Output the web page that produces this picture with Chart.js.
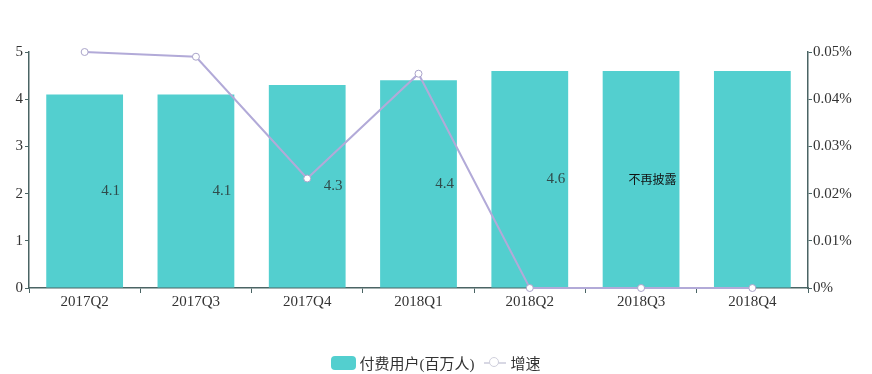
<!DOCTYPE html>
<html>
<head>
<meta charset="utf-8">
<script src="https://cdn.jsdelivr.net/npm/chart.js@4"></script>
<style>
  body { margin: 0; background: #fff; }
  #wrap { position: relative; width: 872px; height: 374px; }
  #legend { position: absolute; left: 0; right: 0; top: 352px; text-align: center;
    font-family: "Liberation Serif", "Noto Sans CJK SC", serif; font-size: 15px; color: #333; }
  #legend span { display: inline-block; vertical-align: middle; }
  .box { width: 25px; height: 14px; border-radius: 4px; background: #53cfcf; margin-right: 3px; }
  .ln { position: relative; width: 22px; height: 2px; background: #d8d8e4; margin: 0 4px 0 10px; }
  .ln i { position: absolute; left: 5px; top: -5px; width: 10px; height: 10px; border-radius: 50%;
    border: 1px solid #cfcfdc; background: #fff; box-sizing: border-box; }
</style>
</head>
<body>
<div id="wrap">
  <canvas id="c" width="872" height="374"></canvas>
  <div id="legend"><span class="box"></span><span>付费用户(百万人)</span><span class="ln"><i></i></span><span>增速</span></div>
</div>
<script>
var quarters = ['2017Q2', '2017Q3', '2017Q4', '2018Q1', '2018Q2', '2018Q3', '2018Q4'];
var paidUsers = [4.1, 4.1, 4.3, 4.4, 4.6, 4.6, 4.6];
var barLabels = ['4.1', '4.1', '4.3', '4.4', '4.6', '不再披露', ''];
var growth = [0.05, 0.049, 0.0232, 0.0454, 0, 0, 0];

var axisColor = '#4a6464';
var tickFont = { family: 'Liberation Serif', size: 15 };

// value labels, right side of each bar, halfway up
var barText = {
  id: 'barText',
  afterDatasetsDraw: function(chart) {
    var ctx = chart.ctx;
    var meta = chart.getDatasetMeta(0);
    ctx.save();
    ctx.textAlign = 'right';
    ctx.textBaseline = 'middle';
    meta.data.forEach(function(bar, i) {
      var txt = barLabels[i];
      if (!txt) return;
      if (/^[\d.]+$/.test(txt)) {
        ctx.font = '15px "Liberation Serif"';
        ctx.fillStyle = '#2f4b4b';
      } else {
        ctx.font = '12px "Noto Sans CJK SC"';
        ctx.fillStyle = '#111';
      }
      ctx.fillText(txt, bar.x + bar.width / 2 - 3, (bar.y + bar.base) / 2);
    });
    ctx.restore();
  }
};

new Chart(document.getElementById('c'), {
  type: 'bar',
  data: {
    labels: quarters,
    datasets: [{
      type: 'bar',
      label: '付费用户(百万人)',
      data: paidUsers,
      backgroundColor: '#53cfcf',
      categoryPercentage: 1,
      barPercentage: 0.69,
      yAxisID: 'y',
      order: 2
    }, {
      type: 'line',
      label: '增速',
      data: growth,
      borderColor: '#b2aad8',
      borderWidth: 2,
      pointRadius: 3.5,
      pointBackgroundColor: '#fff',
      pointBorderColor: '#a9a3c9',
      pointBorderWidth: 1,
      tension: 0,
      clip: false,
      yAxisID: 'y1',
      order: 1
    }]
  },
  options: {
    responsive: false,
    animation: false,
    layout: { padding: { top: 52, bottom: 0, left: 0, right: 0 } },
    plugins: { legend: { display: false }, tooltip: { enabled: false } },
    scales: {
      x: {
        offset: true,
        grid: { display: true, drawOnChartArea: false, tickLength: 5, offset: true, color: axisColor },
        border: { color: axisColor, width: 1.5 },
        ticks: { color: '#333', font: tickFont, padding: 0 },
        afterFit: function(s) { s.height = 86; }
      },
      y: {
        position: 'left',
        min: 0, max: 5,
        grid: { drawOnChartArea: false, tickLength: 4, color: axisColor },
        border: { color: axisColor, width: 1.5 },
        ticks: { stepSize: 1, color: '#333', font: tickFont, padding: 2 },
        afterFit: function(s) { s.width = 29; }
      },
      y1: {
        position: 'right',
        min: 0, max: 0.05,
        grid: { drawOnChartArea: false, tickLength: 4, color: axisColor },
        border: { color: axisColor, width: 1.5 },
        ticks: {
          stepSize: 0.01, color: '#333', font: tickFont, padding: 1,
          callback: function(v) { return v === 0 ? '0%' : v.toFixed(2) + '%'; }
        },
        afterFit: function(s) { s.width = 64; }
      }
    }
  },
  plugins: [barText]
});
</script>
</body>
</html>
